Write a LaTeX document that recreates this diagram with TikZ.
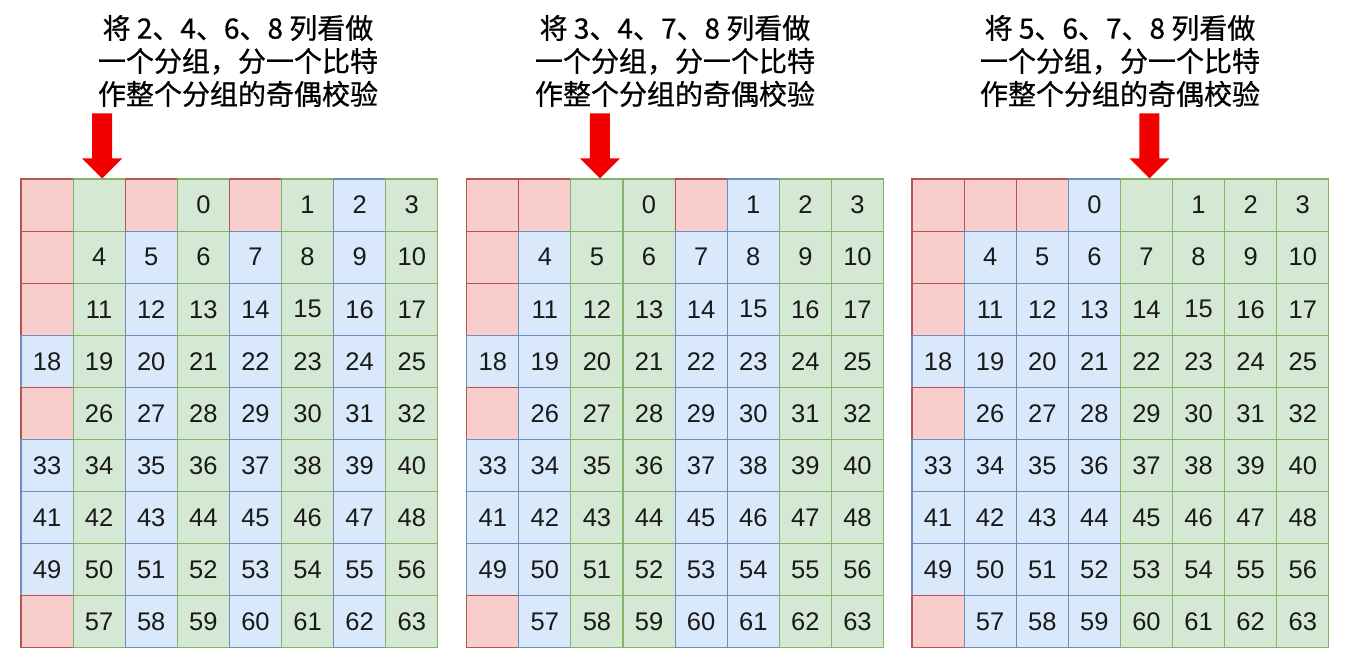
\documentclass[tikz,border=0pt]{standalone}
\usepackage{fontspec}
\setmainfont{Liberation Sans}
\newfontfamily\cjk[FakeBold=0.7]{Noto Sans CJK SC}
\definecolor{pinkF}{HTML}{F8CECC}
\definecolor{pinkD}{HTML}{B85450}
\definecolor{greenF}{HTML}{D5E8D4}
\definecolor{greenD}{HTML}{82B366}
\definecolor{blueF}{HTML}{DAE8FC}
\definecolor{blueD}{HTML}{6C8EBF}
\definecolor{arrowred}{HTML}{F20000}
\tikzset{
  cellbase/.style={minimum width=52.1pt, minimum height=52.1pt, inner sep=0pt,
    line width=1.1pt, font=\fontsize{25.5}{25.5}\selectfont, text=black!90},
  note/.style={align=center, text=black, font=\cjk\fontsize{28}{33}\selectfont},
  redarrow/.style={fill=arrowred}
}
\begin{document}
\begin{tikzpicture}[x=1pt,y=-1pt]
\fill[white] (0,0) rectangle (1350,659);
\useasboundingbox (0,0) rectangle (1350,659);
\foreach \g/\xo/\m in {1/21/1, 2/466.7/2, 3/912/4} {
  \foreach \p in {0,...,71} {
    \pgfmathtruncatemacro\r{floor(\p/8)}
    \pgfmathtruncatemacro\c{mod(\p,8)}
    \pgfmathtruncatemacro\isp{(\p==0)||(\p==1)||(\p==2)||(\p==4)||(\p==8)||(\p==16)||(\p==32)||(\p==64)}
    \pgfmathtruncatemacro\grp{mod(floor(\c/\m),2)}
    \pgfmathtruncatemacro\num{\p-(\p>0)-(\p>1)-(\p>2)-(\p>4)-(\p>8)-(\p>16)-(\p>32)-(\p>64)}
    \pgfmathtruncatemacro\sel{\p==\m}
    \ifnum\isp=1
      \ifnum\sel=1
        \def\fc{greenF}\def\dc{greenD}\def\txt{}
      \else
        \def\fc{pinkF}\def\dc{pinkD}\def\txt{}
      \fi
    \else
      \ifnum\grp=1
        \def\fc{greenF}\def\dc{greenD}
      \else
        \def\fc{blueF}\def\dc{blueD}
      \fi
      \edef\txt{\num}
    \fi
    \node[cellbase, fill=\fc, draw=\dc] (g\g p\p) at ({\xo+52.1*\c+26.05}, {179+52.1*\r+26.05}) {\txt};
  }
}
\foreach \g/\m in {1/1, 2/2, 3/4} {
  \fill[redarrow] ([xshift=3pt]g\g p\m.north) -- ++(-20,-20) -- ++(10,0) -- ++(0,-45)
    -- ++(20,0) -- ++(0,45) -- ++(10,0) -- cycle;
}
\node[note] (t1) at (238,61) {将 2、4、6、8 列看做\\一个分组，分一个比特\\作整个分组的奇偶校验};
\node[note] (t2) at (675,61) {将 3、4、7、8 列看做\\一个分组，分一个比特\\作整个分组的奇偶校验};
\node[note] (t3) at (1120,61) {将 5、6、7、8 列看做\\一个分组，分一个比特\\作整个分组的奇偶校验};
\end{tikzpicture}
\end{document}
